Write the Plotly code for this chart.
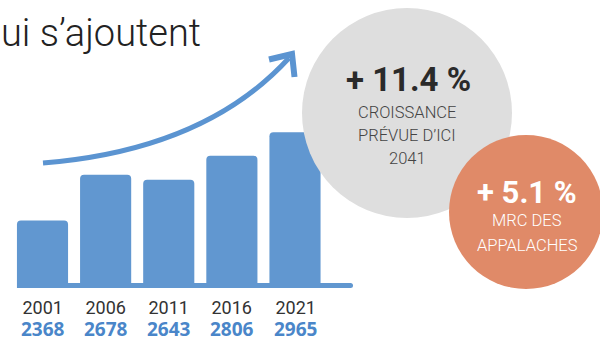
import plotly.graph_objects as go

# Population by census year
years = ["2001", "2006", "2011", "2016", "2021"]
population = [2368, 2678, 2643, 2806, 2965]

# Growth callouts
growth_region = "+ 11.4 %"
growth_region_lines = ["CROISSANCE", "PRÉVUE D’ICI", "2041"]
growth_mrc = "+ 5.1 %"
growth_mrc_lines = ["MRC DES", "APPALACHES"]
headline = "ui s’ajoutent"

W, H = 600, 343
BLUE = "#6197d0"
ARROW = "#5b94d1"
GREY = "#dedede"
ORANGE = "#e08a68"
VALUE_BLUE = "#4a86c9"
FONT = "Roboto, sans-serif"

fig = go.Figure()

fig.add_trace(go.Bar(
    x=years, y=population,
    marker=dict(color=BLUE, line=dict(width=0)),
    xaxis="x", yaxis="y", hoverinfo="skip",
))

# Invisible pixel-space axes used for decorations and callouts
fig.add_trace(go.Scatter(x=[0, W], y=[0, H], mode="markers",
                         marker=dict(opacity=0), xaxis="x2", yaxis="y2",
                         hoverinfo="skip"))

base_px = 288
px_per_unit = 0.148
y0 = 1912

fig.update_layout(
    width=W, height=H,
    margin=dict(l=0, r=0, t=0, b=0),
    paper_bgcolor="white", plot_bgcolor="rgba(0,0,0,0)",
    showlegend=False,
    bargap=0.19,
    barcornerradius=4,
    xaxis=dict(domain=[10.94 / W, 326.56 / W], visible=False, type="category",
               categoryorder="array", categoryarray=years,
               range=[-0.5, len(years) - 0.5], anchor="y"),
    yaxis=dict(domain=[1 - base_px / H, 1], range=[y0, y0 + base_px / px_per_unit],
               visible=False, anchor="x"),
    xaxis2=dict(domain=[0, 1], range=[0, W], visible=False, anchor="y2"),
    yaxis2=dict(domain=[0, 1], range=[H, 0], visible=False, anchor="x2"),
)

px = dict(xref="x2", yref="y2")

shapes = [
    # grey callout disc
    dict(type="circle", x0=302, x1=512, y0=8, y1=218, fillcolor=GREY,
         line=dict(width=0), layer="below", **px),
    # orange callout disc
    dict(type="circle", x0=449, x1=603, y0=135, y1=289, fillcolor=ORANGE,
         line=dict(width=0), layer="below", **px),
    # baseline under the bars
    dict(type="path",
         path="M 19.5 283 H 350.5 Q 353 283 353 285.5 Q 353 288 350.5 288 "
              "H 19.5 Q 17 288 17 285.5 Q 17 283 19.5 283 Z",
         fillcolor=BLUE, line=dict(width=0), layer="below", **px),
    # rising trend arrow
    dict(type="path", path="M 43 163 Q 205 150 289 58",
         line=dict(color=ARROW, width=5), layer="above", **px),
    dict(type="path", path="M 269 59.5 L 292 54 L 294.5 77",
         line=dict(color=ARROW, width=6), layer="above", **px),
]
fig.update_layout(shapes=shapes)

ann = []
ann.append(dict(text=headline, x=0, y=33, xanchor="left", yanchor="middle",
                showarrow=False, borderpad=0,
                font=dict(family=FONT, size=38, color="#222222", weight=300), **px))

# Year and population stacked under each bar
for i, (yr, val) in enumerate(zip(years, population)):
    label = (f"<span style='font-size:18px;color:#333333'>{yr}</span><br>"
             f"<span style='font-family:Open Sans, sans-serif;font-size:19px;"
             f"color:{VALUE_BLUE}'><b>{val}</b></span>")
    ann.append(dict(text=label, x=i, y=319, xref="x", yref="y2",
                    xanchor="center", yanchor="middle", showarrow=False,
                    borderpad=0,
                    font=dict(family=FONT, size=17, color="#333333")))

ann.append(dict(text=f"<b>{growth_region}</b>", x=408, y=79, showarrow=False,
                xanchor="center", yanchor="middle",
                font=dict(family=FONT, size=33, color="#2a2a2a"), **px))
for i, line in enumerate(growth_region_lines):
    ann.append(dict(text=line, x=407, y=112 + 23 * i, showarrow=False,
                    xanchor="center", yanchor="middle",
                    font=dict(family=FONT, size=16.5, color="#444444", weight=300), **px))

ann.append(dict(text=f"<b>{growth_mrc}</b>", x=527, y=192, showarrow=False,
                xanchor="center", yanchor="middle",
                font=dict(family=FONT, size=31, color="white"), **px))
for i, line in enumerate(growth_mrc_lines):
    ann.append(dict(text=line, x=527, y=220 + 25 * i, showarrow=False,
                    xanchor="center", yanchor="middle",
                    font=dict(family=FONT, size=16.5, color="white", weight=300), **px))

fig.update_layout(annotations=ann)

fig.write_html("out.html", config=dict(displayModeBar=False))
